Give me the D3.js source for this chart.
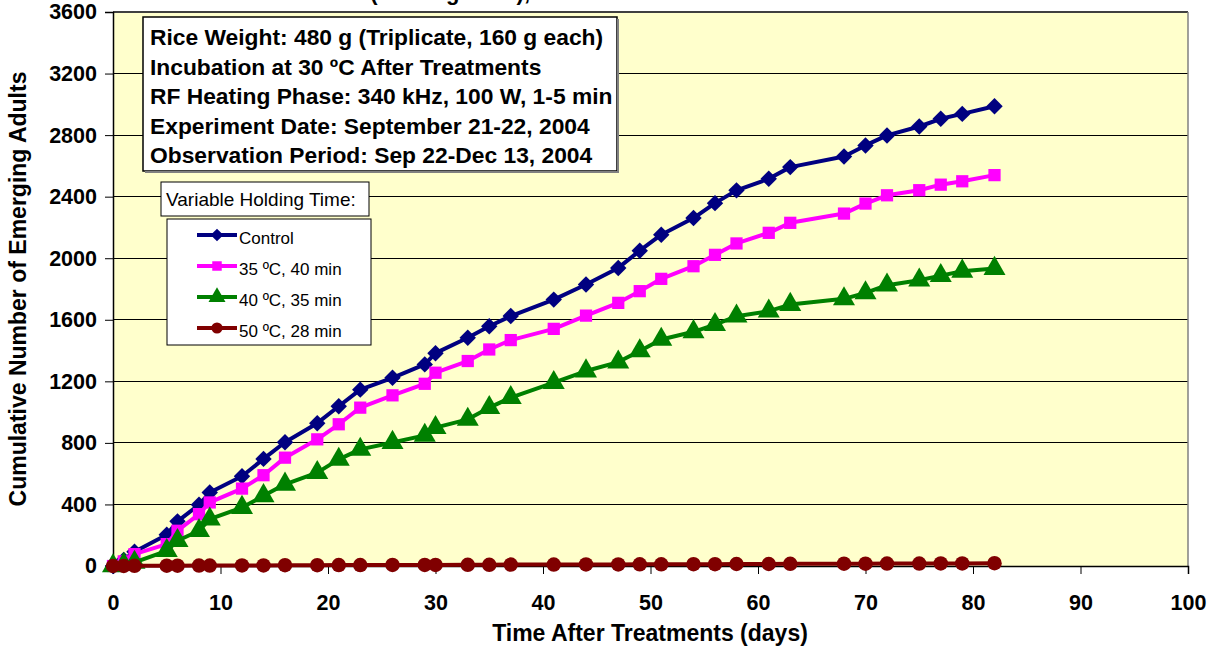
<!DOCTYPE html>
<html><head><meta charset="utf-8">
<script src="https://cdn.jsdelivr.net/npm/d3@7"></script>
<style>
body{margin:0;background:#fff}
text{font-family:"Liberation Sans",Arial,sans-serif}
</style>
</head><body>
<svg id="c" width="1220" height="649"></svg>
<script>
const days = [0,1,2,5,6,8,9,12,14,16,19,21,23,26,29,30,33,35,37,41,44,47,49,51,54,56,58,61,63,68,70,72,75,77,79,82];
const control = [0,40,93,203,290,398,478,583,696,804,928,1038,1146,1223,1310,1383,1483,1558,1624,1731,1829,1937,2049,2153,2261,2358,2441,2516,2592,2661,2733,2798,2856,2906,2938,2988];
const t35 = [0,30,77,142,229,337,413,503,590,704,823,921,1029,1109,1184,1256,1332,1407,1468,1541,1627,1710,1786,1866,1948,2022,2096,2165,2230,2290,2355,2409,2442,2478,2500,2540];
const t40 = [0,10,23,99,164,229,304,380,456,531,607,693,758,802,849,899,953,1029,1094,1191,1267,1325,1397,1472,1522,1568,1623,1656,1699,1736,1775,1825,1857,1887,1915,1933];
const t50 = [0,0,1,2,2,3,3,4,4,5,5,6,6,7,7,7,8,8,9,9,10,10,11,11,12,12,13,13,14,15,15,16,16,17,17,18];
const seriesNames = ["Control","35 ºC, 40 min","40 ºC, 35 min","50 ºC, 28 min"];
const seriesColors = ["#000080","#FF00FF","#008000","#800000"];
const seriesShapes = ["diamond","square","triangle","circle"];
const yTicks = [0,400,800,1200,1600,2000,2400,2800,3200,3600];
const xTicks = [0,10,20,30,40,50,60,70,80,90,100];
const infoLines = [
  "Rice Weight: 480 g (Triplicate, 160 g each)",
  "Incubation at 30 ºC After Treatments",
  "RF Heating Phase: 340 kHz, 100 W, 1-5 min",
  "Experiment Date: September 21-22, 2004",
  "Observation Period: Sep 22-Dec 13, 2004"
];
const legendTitle = "Variable Holding Time:";
const topTitle = "(Holding Time),";
const xTitle = "Time After Treatments (days)";
const yTitle = "Cumulative Number of Emerging Adults";

const allSeries = [control,t35,t40,t50];

const svg = d3.select("#c");
const L=113, R=1188, T=12, B=566;
const x = d3.scaleLinear().domain([0,100]).range([L,R]);
const y = d3.scaleLinear().domain([0,3600]).range([B,T]);

// top cut-off title (only its lower edge is visible, as in the reference)
svg.append("text").attr("x",530).attr("y",0).attr("text-anchor","end")
  .attr("font-weight","bold").attr("font-size",22).text(topTitle);

// plot background
svg.append("rect").attr("x",L).attr("y",T).attr("width",R-L).attr("height",B-T).attr("fill","#FFFFCC");

// gridlines
svg.append("g").selectAll("line").data(yTicks.filter(d=>d>0)).join("line")
  .attr("x1",L).attr("x2",R).attr("y1",d=>y(d)).attr("y2",d=>y(d))
  .attr("stroke","#000").attr("stroke-width",1).attr("shape-rendering","crispEdges");

// border top/right
svg.append("line").attr("x1",L).attr("x2",R).attr("y1",T).attr("y2",T).attr("stroke","#404040").attr("stroke-width",2);
svg.append("line").attr("x1",R).attr("x2",R).attr("y1",T).attr("y2",B).attr("stroke","#808080").attr("stroke-width",1.5);

// axes
const yAxis = d3.axisLeft(y).tickValues(yTicks).tickSize(8).tickPadding(8).tickFormat(d3.format("d"));
const gy = svg.append("g").attr("transform",`translate(${L},0)`).call(yAxis);
const xAxis = d3.axisBottom(x).tickValues(xTicks).tickSize(8).tickPadding(21).tickFormat(d3.format("d"));
const gx = svg.append("g").attr("transform",`translate(0,${B})`).call(xAxis);
[gx,gy].forEach(g=>{
  g.select(".domain").attr("stroke","#000").attr("stroke-width",1.5);
  g.selectAll(".tick line").attr("stroke","#000");
  g.selectAll(".tick text").attr("font-family","Liberation Sans, Arial, sans-serif")
    .attr("font-weight","bold").attr("font-size",21.5).attr("fill","#000");
});

// axis titles
svg.append("text").attr("x",650).attr("y",641).attr("text-anchor","middle")
  .attr("font-weight","bold").attr("font-size",23).text(xTitle);
svg.append("text").attr("transform",`translate(26,${(T+B)/2}) rotate(-90)`).attr("text-anchor","middle")
  .attr("font-weight","bold").attr("font-size",23).text(yTitle);

// series
const symType = {diamond:d3.symbolSquare, square:d3.symbolSquare, triangle:d3.symbolTriangle, circle:d3.symbolCircle};
const symSize = {diamond:135, square:150, triangle:210, circle:165};
const symRot = {diamond:45, square:0, triangle:0, circle:0};
const line = d3.line().x(d=>x(d[0])).y(d=>y(d[1]));
allSeries.forEach((vals,i)=>{
  const pts = days.map((d,j)=>[d,vals[j]]);
  const g = svg.append("g");
  g.append("path").datum(pts).attr("d",line).attr("fill","none")
    .attr("stroke",seriesColors[i]).attr("stroke-width",4).attr("stroke-linejoin","round");
  const sh = seriesShapes[i];
  g.selectAll("path.m").data(pts).join("path").attr("class","m")
    .attr("transform",d=>`translate(${x(d[0])},${y(d[1])}) rotate(${symRot[sh]})`)
    .attr("d",d3.symbol().type(symType[sh]).size(symSize[sh]))
    .attr("fill",seriesColors[i]);
});

// info box
const ib = svg.append("g");
ib.append("rect").attr("x",143).attr("y",17).attr("width",474).attr("height",154)
  .attr("fill","#fff").attr("stroke","#000").attr("stroke-width",1.5);
ib.append("rect").attr("x",145).attr("y",171).attr("width",473).attr("height",2).attr("fill","#808080");
ib.append("rect").attr("x",617).attr("y",19).attr("width",2).attr("height",154).attr("fill","#808080");
infoLines.forEach((t,i)=>{
  ib.append("text").attr("x",150).attr("y",45+i*29.5).attr("font-weight","bold").attr("font-size",22.8).text(t);
});

// legend title
const lt = svg.append("g");
lt.append("rect").attr("x",161).attr("y",182).attr("width",208).attr("height",34)
  .attr("fill","#fff").attr("stroke","#000").attr("stroke-width",1);
lt.append("text").attr("x",166).attr("y",206).attr("font-size",19).text(legendTitle);

// legend
const lg = svg.append("g");
lg.append("rect").attr("x",167).attr("y",219).attr("width",204).attr("height",126)
  .attr("fill","#fff").attr("stroke","#000").attr("stroke-width",1);
seriesNames.forEach((n,i)=>{
  const yy = 235 + i*31;
  lg.append("line").attr("x1",197).attr("x2",237).attr("y1",yy).attr("y2",yy)
    .attr("stroke",seriesColors[i]).attr("stroke-width",4);
  const sh = seriesShapes[i];
  lg.append("path").attr("transform",`translate(217,${yy}) rotate(${symRot[sh]})`)
    .attr("d",d3.symbol().type(symType[sh]).size(symSize[sh]*0.6)).attr("fill",seriesColors[i]);
  lg.append("text").attr("x",239).attr("y",yy+9).attr("font-size",17).text(n);
});
</script>
</body></html>
